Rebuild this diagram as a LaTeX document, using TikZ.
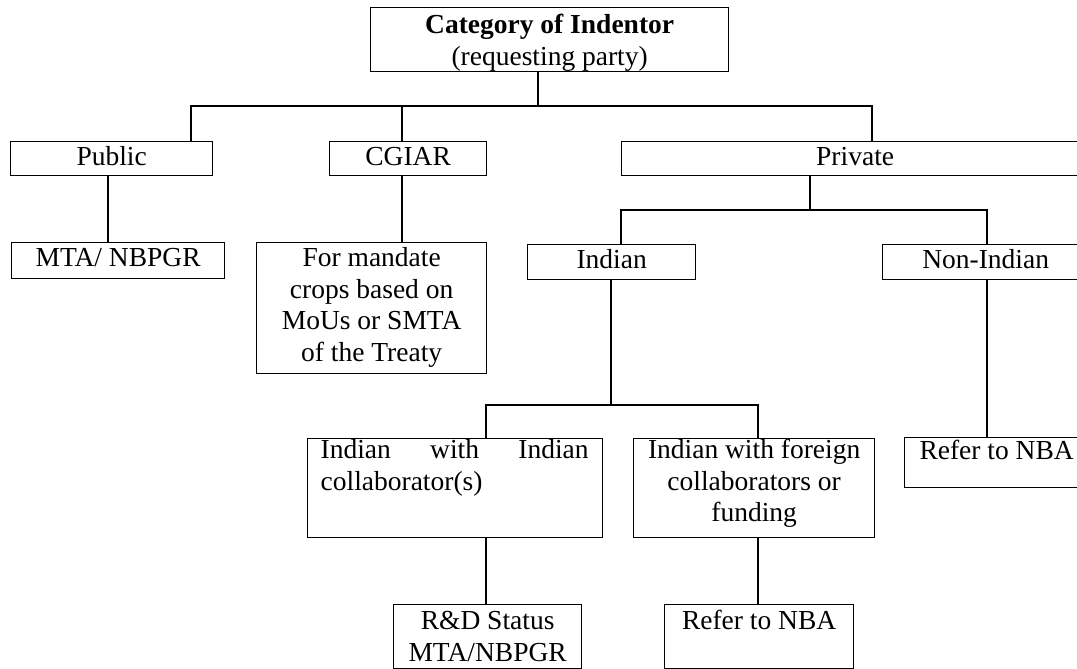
\documentclass[tikz,border=0pt]{standalone}
\usepackage{fontspec}
\setmainfont{Liberation Serif}
\newcommand{\bt}[4]{\parbox[b][#2][t]{#1}{\centering\rule{0pt}{#3}#4}}
\tikzset{
  box/.style={draw, line width=1.3pt, inner sep=0pt, anchor=north west},
  ln/.style={line width=1.3pt}
}
\begin{document}
\begin{tikzpicture}[x=1pt,y=-1pt,font=\fontsize{27.5}{31.5}\selectfont]
\useasboundingbox (0,0) rectangle (1077,669);
\clip (0,0) rectangle (1077,669);
% boxes
\node[box] (root) at (370,7) {\bt{358pt}{64pt}{26pt}{\textbf{Category of Indentor}\\(requesting party)}};
\node[box] (pub) at (10,141) {\bt{202pt}{34pt}{24pt}{Public}};
\node[box] (cg) at (329,141) {\bt{157pt}{34pt}{24pt}{CGIAR}};
\node[box] (priv) at (621,141) {\bt{467pt}{34pt}{24pt}{Private}};
\node[box] (mta) at (11,242) {\bt{213pt}{36pt}{24pt}{MTA/ NBPGR}};
\node[box] (man) at (256,242) {\bt{230pt}{131pt}{24pt}{For mandate\\crops based on\\MoUs or SMTA\\of the Treaty}};
\node[box] (ind) at (527,244) {\bt{168pt}{35pt}{24pt}{Indian}};
\node[box] (non) at (882,244) {\bt{206pt}{35pt}{24pt}{Non-Indian}};
\node[box] (iwi) at (307,438) {\parbox[b][99pt][t]{295pt}{\hspace*{13pt}\parbox[t]{268pt}{\hyphenpenalty=10000 \tolerance=10000 \rule{0pt}{20pt}Indian with Indian collaborator(s)}}};
\node[box] (iwf) at (633,438) {\bt{241pt}{99pt}{20pt}{Indian with foreign\\collaborators or\\funding}};
\node[box] (refr) at (904,437) {\bt{184pt}{50pt}{22pt}{Refer to NBA}};
\node[box] (rd) at (393,604) {\bt{188pt}{64pt}{25pt}{R\&D Status\\MTA/NBPGR}};
\node[box] (refb) at (664,604) {\bt{189pt}{64pt}{25pt}{Refer to NBA}};
% junction coordinates
\coordinate (j0) at (538,106);
\coordinate (p1) at (191,106);
\coordinate (p2) at (402,106);
\coordinate (p3) at (872,106);
\coordinate (c1) at (108,0);
\coordinate (j1) at (810,210);
\coordinate (p4) at (621,210);
\coordinate (p5) at (987,210);
\coordinate (j2) at (611,405);
\coordinate (p6) at (486,405);
\coordinate (p7) at (758,405);
% connectors
\draw[ln] (root.south -| j0) -- (j0);
\draw[ln] (pub.north -| p1) -- (p1) -- (p3) -- (priv.north -| p3);
\draw[ln] (cg.north -| p2) -- (p2);
\draw[ln] (pub.south -| c1) -- (mta.north -| c1);
\draw[ln] (cg.south -| p2) -- (man.north -| p2);
\draw[ln] (priv.south -| j1) -- (j1);
\draw[ln] (ind.north -| p4) -- (p4) -- (p5) -- (non.north -| p5);
\draw[ln] (non.south -| p5) -- (refr.north -| p5);
\draw[ln] (ind.south -| j2) -- (j2);
\draw[ln] (iwi.north -| p6) -- (p6) -- (p7) -- (iwf.north -| p7);
\draw[ln] (iwi.south -| p6) -- (rd.north -| p6);
\draw[ln] (iwf.south -| p7) -- (refb.north -| p7);
\end{tikzpicture}
\end{document}
